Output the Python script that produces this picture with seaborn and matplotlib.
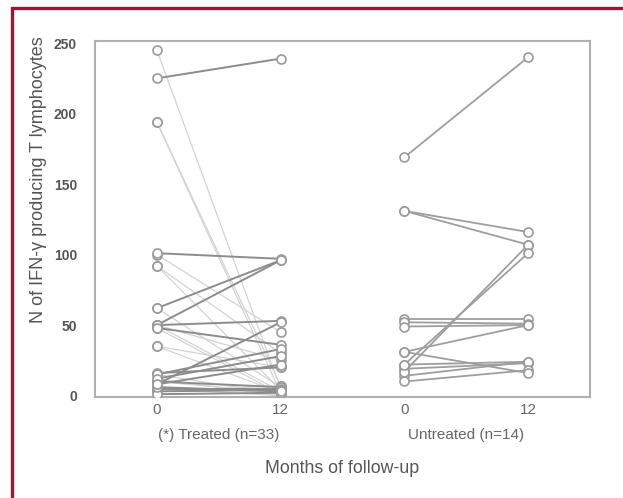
import numpy as np
import pandas as pd
import matplotlib
matplotlib.use("Agg")
import matplotlib.pyplot as plt
import seaborn as sns
from matplotlib.patches import Rectangle

# Treated group (n=33): value at month 0, value at month 12, line shade
treated_m0 = [225, 101, 62, 50, 50, 48, 8, 15, 12, 8, 10, 5, 3, 1, 6, 16,
              245, 194, 194, 92, 92, 62, 50, 48, 35, 35, 15, 10, 100, 5, 3, 50, 12]
treated_m12 = [239, 97, 96, 96, 53, 36, 52, 33, 28, 22, 6, 5, 4, 2, 3, 20,
               5, 2, 7, 4, 30, 6, 3, 1, 2, 20, 1, 2, 45, 0, 7, 25, 0]
treated_shade = ["dark"] * 16 + ["light"] * 17

# Untreated group (n=14)
untreated_m0 = [169, 131, 131, 17, 22, 54, 52, 49, 31, 31, 22, 19, 14, 10]
untreated_m12 = [240, 116, 107, 107, 101, 54, 51, 50, 50, 16, 24, 23, 24, 18]

x_positions = [0, 1, 2, 3]
x_ticklabels = ["0", "12", "0", "12"]
group_labels = ["(*) Treated (n=33)", "Untreated (n=14)"]

rows = []
for i, (a, b, s) in enumerate(zip(treated_m0, treated_m12, treated_shade)):
    rows.append(dict(subject=f"t{i}", x=x_positions[0], value=a, shade=s))
    rows.append(dict(subject=f"t{i}", x=x_positions[1], value=b, shade=s))
for i, (a, b) in enumerate(zip(untreated_m0, untreated_m12)):
    rows.append(dict(subject=f"u{i}", x=x_positions[2], value=a, shade="mid"))
    rows.append(dict(subject=f"u{i}", x=x_positions[3], value=b, shade="mid"))
df = pd.DataFrame(rows)

sns.set_style("white")
plt.rcParams['font.family'] = ['Liberation Sans', 'DejaVu Sans']

fig = plt.figure(figsize=(6.23, 4.98), dpi=100)
ax = fig.add_axes([0.1525, 0.2028, 0.7945, 0.7149])

palette = {"light": "#d3d3d3", "mid": "#9e9e9e", "dark": "#8c8c8c"}
for shade, lw, z in [("light", 0.9, 2), ("mid", 1.3, 3), ("dark", 1.4, 4)]:
    sub = df[df["shade"] == shade]
    sns.lineplot(data=sub, x="x", y="value", units="subject", estimator=None,
                 color=palette[shade], lw=lw, marker="o", ms=6.5,
                 mfc="white", mec="#9a9a9a", mew=1.2, zorder=z, ax=ax,
                 legend=False)

ax.set_xlim(-0.5, 3.5)
ax.set_ylim(-1, 251.5)
ax.set_xticks(x_positions)
ax.set_xticklabels(x_ticklabels, fontsize=11, color="#666666")
ax.set_yticks([0, 50, 100, 150, 200, 250])
ax.set_yticklabels(["0", "50", "100", "150", "200", "250"], fontsize=10,
                   color="#555555", fontweight="bold")
ax.tick_params(axis="both", direction="in", length=5, color="#aaaaaa", width=1)
ax.tick_params(axis="y", pad=13)
ax.tick_params(axis="x", pad=4)
for sp in ax.spines.values():
    sp.set_color("#b0b0b0")
    sp.set_linewidth(1.5)

ax.set_xlabel("")
ax.set_ylabel("N of IFN-γ producing T lymphocytes", fontsize=13, color="#555555")
ax.yaxis.set_label_coords(-0.096, 0.61)

trans = ax.get_xaxis_transform()
ax.text(0.5, -0.108, group_labels[0], transform=trans, ha="center", va="center",
        fontsize=11, color="#666666")
ax.text(2.5, -0.108, group_labels[1], transform=trans, ha="center", va="center",
        fontsize=11, color="#666666")
fig.text(0.549, 0.06, "Months of follow-up", ha="center", va="center",
         fontsize=12.8, color="#555555")

# dark red frame around the figure
fig.patches.append(Rectangle((12 / 623, -0.1), 1.2, 1 - 8 / 498 + 0.1,
                             transform=fig.transFigure, fill=False,
                             edgecolor="#a8103a", lw=2.4))

fig.savefig("out.png", dpi=100)
